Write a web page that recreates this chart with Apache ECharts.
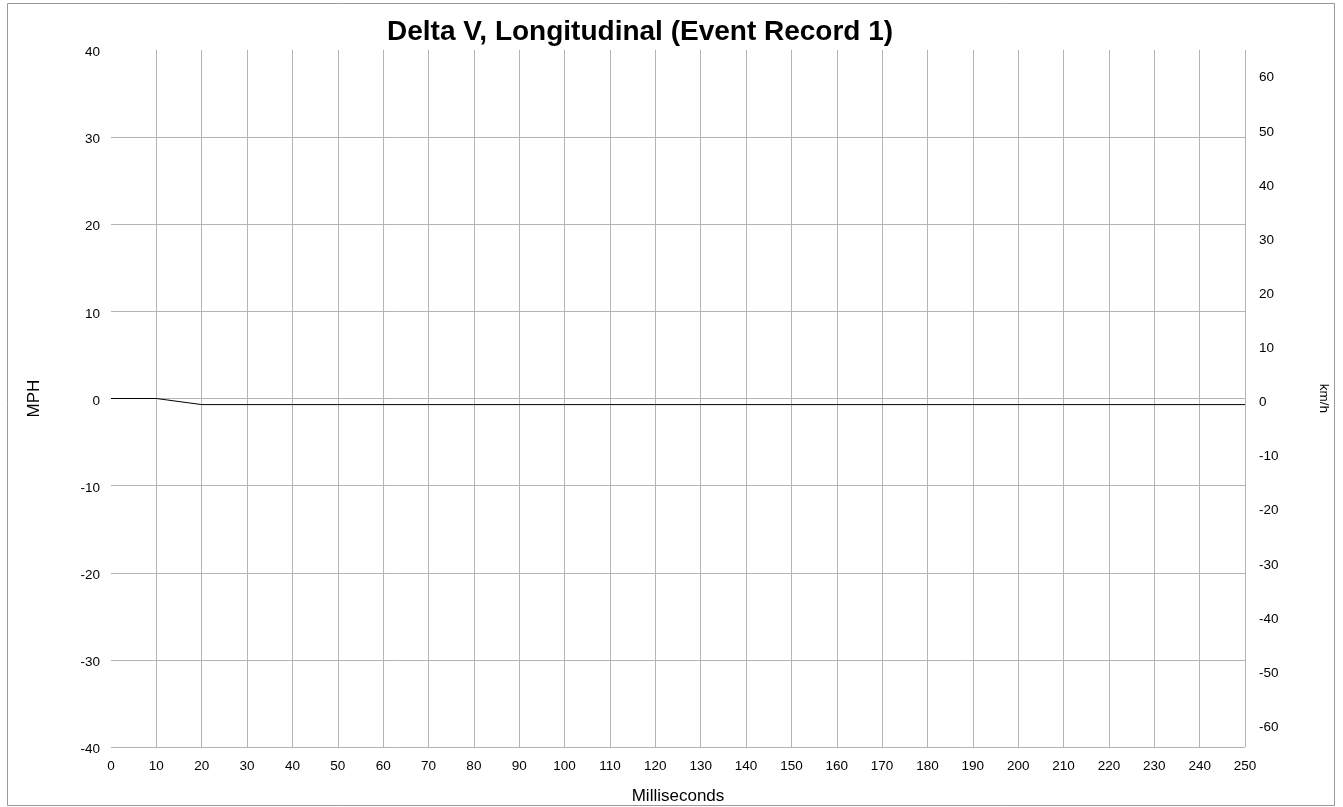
<!DOCTYPE html>
<html>
<head>
<meta charset="utf-8">
<script src="https://cdn.jsdelivr.net/npm/echarts@6/dist/echarts.min.js"></script>
<style>
  html, body { margin: 0; padding: 0; background: #fff; }
  #chart { width: 1343px; height: 807px; }
</style>
</head>
<body>
<div id="chart"></div>
<script>
// Delta V trace, time in milliseconds vs. velocity change in MPH
const timeMs = [0, 10, 20, 30, 40, 50, 60, 70, 80, 90, 100, 110, 120, 130, 140, 150, 160, 170, 180, 190, 200, 210, 220, 230, 240, 250];
const deltaVMph = [0, 0, -0.7, -0.7, -0.7, -0.7, -0.7, -0.7, -0.7, -0.7, -0.7, -0.7, -0.7, -0.7, -0.7, -0.7, -0.7, -0.7, -0.7, -0.7, -0.7, -0.7, -0.7, -0.7, -0.7, -0.7];
const kmhTicks = [-60, -50, -40, -30, -20, -10, 0, 10, 20, 30, 40, 50, 60];

const MPH_TO_KMH = 1.609344;
const mphMin = -40, mphMax = 40;

const font = 'Liberation Sans, Arial, sans-serif';
const gridColor = '#b4b4b4';

const chart = echarts.init(document.getElementById('chart'));
chart.setOption({
  animation: false,
  backgroundColor: '#fff',
  title: {
    text: 'Delta V, Longitudinal (Event Record 1)',
    left: 382,
    top: 13,
    textStyle: { fontFamily: font, fontSize: 28, fontWeight: 'bold', color: '#000' }
  },
  graphic: [{
    type: 'rect',
    shape: { x: 7.5, y: 3.5, width: 1327, height: 802 },
    style: { fill: 'none', stroke: '#999', lineWidth: 1 },
    silent: true
  }],
  grid: { left: 111, right: 98, top: 50, bottom: 60, outerBoundsMode: 'none' },
  xAxis: {
    type: 'value',
    min: 0, max: 250, interval: 10,
    name: 'Milliseconds',
    nameLocation: 'middle',
    nameGap: 41,
    nameTextStyle: { fontFamily: font, fontSize: 17, color: '#000' },
    axisLine: { show: false },
    axisTick: { show: false },
    axisLabel: { fontFamily: font, fontSize: 13.5, color: '#000', margin: 12 },
    splitLine: { show: true, showMinLine: false, lineStyle: { color: gridColor, width: 1 } }
  },
  yAxis: [{
    type: 'value',
    min: mphMin, max: mphMax, interval: 10,
    name: 'MPH',
    nameLocation: 'middle',
    nameGap: 68,
    nameRotate: 90,
    nameTextStyle: { fontFamily: font, fontSize: 17, color: '#000' },
    axisLine: { show: false },
    axisTick: { show: false },
    axisLabel: { fontFamily: font, fontSize: 13.5, color: '#000', margin: 11, verticalAlign: 'top', lineHeight: 5 },
    splitLine: { show: true, showMaxLine: false, lineStyle: { color: gridColor, width: 1 } }
  }, {
    type: 'value',
    position: 'right',
    min: mphMin * MPH_TO_KMH, max: mphMax * MPH_TO_KMH,
    name: 'km/h',
    nameLocation: 'middle',
    nameGap: 72,
    nameRotate: -90,
    nameTextStyle: { fontFamily: font, fontSize: 13.5, color: '#000' },
    axisLine: { show: false },
    axisTick: { show: false },
    axisLabel: { fontFamily: font, fontSize: 13.5, color: '#000', margin: 14, verticalAlign: 'top', lineHeight: 8, customValues: kmhTicks },
    splitLine: { show: false }
  }],
  series: [{
    type: 'line',
    yAxisIndex: 0,
    data: timeMs.map((t, i) => [t, deltaVMph[i]]),
    showSymbol: false,
    lineStyle: { color: '#000', width: 1 },
    z: 5
  }]
});
</script>
</body>
</html>
